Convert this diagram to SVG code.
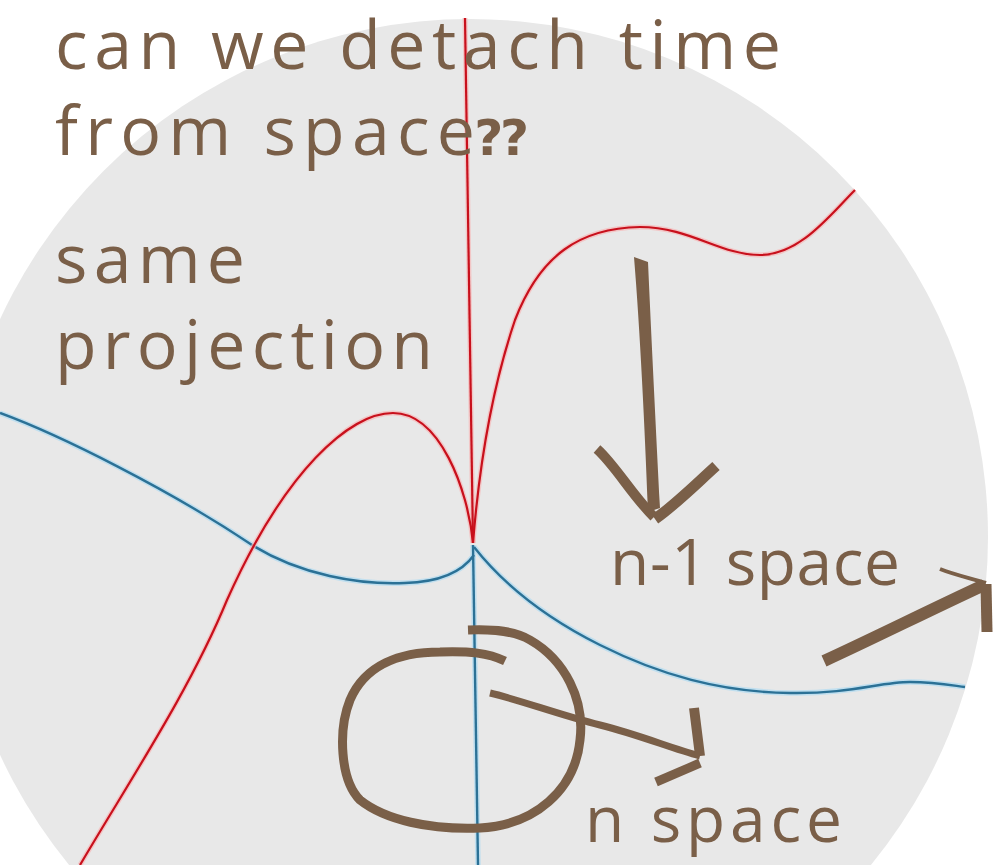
<svg xmlns="http://www.w3.org/2000/svg" width="997" height="865" viewBox="0 0 997 865">
<style>
.t{font-family:"Open Sans","Noto Sans",sans-serif;fill:#7a5f48;font-size:68px}
.t2{font-family:"Open Sans","Noto Sans",sans-serif;fill:#7a5f48;font-size:64px}
.rg{fill:none;stroke:#f6b8b8;stroke-width:5;stroke-opacity:.7}
.r{fill:none;stroke:#c8101c;stroke-width:2.2}
.bg{fill:none;stroke:#b5dcf0;stroke-width:5.5;stroke-opacity:.8}
.b{fill:none;stroke:#2b7196;stroke-width:2.4}
.br{fill:none;stroke:#7a5f48;stroke-linecap:butt;stroke-linejoin:round}
</style>
<rect width="997" height="865" fill="#ffffff"/>
<circle id="disc" cx="470" cy="537" r="518" fill="#e8e8e8"/>
<g id="curves">
<path class="bg" d="M0,413 C60,435 170,490 252,545 C300,575 360,585 405,583 C440,582 462,572 474,555"/>
<path class="bg" d="M474,547 C500,580 540,615 600,645 C660,675 720,692 790,693 C850,694 880,682 910,682 C935,682 950,685 965,687"/>
<path class="bg" d="M473,545 L478,865"/>
<path class="b" d="M0,413 C60,435 170,490 252,545 C300,575 360,585 405,583 C440,582 462,572 474,555"/>
<path class="b" d="M474,547 C500,580 540,615 600,645 C660,675 720,692 790,693 C850,694 880,682 910,682 C935,682 950,685 965,687"/>
<path class="b" d="M473,545 L478,865"/>
<path class="rg" d="M465,18 L473,543"/>
<path class="rg" d="M473,543 C478,480 488,400 515,320 C540,255 580,228 640,227 C690,227 720,255 760,255 C800,255 830,215 855,190"/>
<path class="rg" d="M473,543 C468,490 440,413 393,413 C350,413 285,470 227,600 C190,690 130,780 80,865"/>
<path class="r" d="M465,18 L473,543"/>
<path class="r" d="M473,543 C478,480 488,400 515,320 C540,255 580,228 640,227 C690,227 720,255 760,255 C800,255 830,215 855,190"/>
<path class="r" d="M473,543 C468,490 440,413 393,413 C350,413 285,470 227,600 C190,690 130,780 80,865"/>
</g>
<g id="texts">
<text class="t" x="55" y="69" textLength="726" lengthAdjust="spacing">can we detach time</text>
<text class="t" x="55" y="155" textLength="420" lengthAdjust="spacing">from space</text>
<text x="476" y="155" style="font-family:'DejaVu Sans',sans-serif;font-size:50px;font-weight:bold;fill:#7a5f48">⁇</text>
<text class="t" x="55" y="283" textLength="190" lengthAdjust="spacing">same</text>
<text class="t" x="55" y="369" textLength="378" lengthAdjust="spacing">projection</text>
<text class="t2" x="610" y="585" textLength="290" lengthAdjust="spacing">n-1 space</text>
<text class="t2" x="585" y="842" textLength="257" lengthAdjust="spacing">n space</text>
</g>
<g id="connectors">
<g id="down-arrow">
<path fill="#7a5f48" d="M634,257 L648,262 C651,330 656,430 660,508 L648,512 C645,430 640,330 634,257 Z"/>
<path class="br" stroke-width="10" d="M597,449 C615,465 632,495 654,517"/>
<path class="br" stroke-width="11" d="M716,466 C695,485 675,505 655,519"/>
</g>
<g id="right-arrow">
<path class="br" stroke-width="12" d="M824,661 C870,640 930,610 984,585"/>
<path class="br" stroke-width="4" d="M940,569 C955,575 970,578 986,583"/>
<path class="br" stroke-width="11" d="M986,584 L987,632"/>
</g>
<g id="loop">
<path class="br" stroke-width="9" d="M468,630 C495,629 515,631 530,640 C565,660 585,700 580,740 C575,790 535,825 480,828 C430,830 385,820 360,800 C340,780 338,730 350,700 C365,665 400,652 440,652 C470,651 488,653 505,661"/>
</g>
<g id="small-arrow">
<path class="br" stroke-width="7" d="M490,693 C520,700 560,715 600,725 C640,735 670,748 700,756"/>
<path class="br" stroke-width="10" d="M694,708 L700,756"/>
<path class="br" stroke-width="9" d="M700,763 L656,782"/>
</g>
</g>
</svg>
